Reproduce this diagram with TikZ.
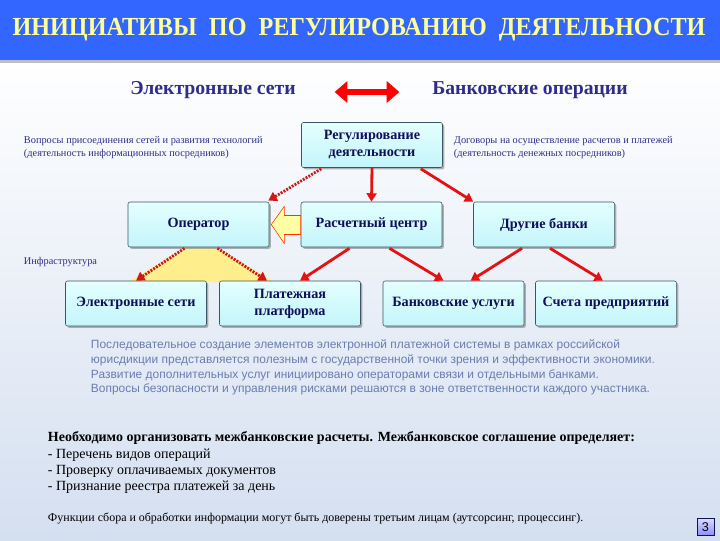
\documentclass[tikz,border=0pt]{standalone}
\usepackage{fontspec}
\setmainfont{Liberation Serif}
\setsansfont{Liberation Sans}
\usepackage{tikz}
\usetikzlibrary{positioning, arrows.meta, calc, shadows}
\usepackage{xcolor}
\definecolor{titleblue}{RGB}{51,102,255}
\definecolor{titleyellow}{RGB}{255,255,153}
\definecolor{hdrnavy}{RGB}{45,45,140}
\definecolor{boxnavy}{RGB}{15,15,90}
\definecolor{boxtop}{RGB}{228,255,255}
\definecolor{boxbot}{RGB}{195,245,250}
\definecolor{boxedge}{RGB}{60,85,100}
\definecolor{arrred}{RGB}{228,18,18}
\definecolor{dotred}{RGB}{205,25,25}
\definecolor{parablue}{RGB}{105,125,175}
\definecolor{bgbottom}{RGB}{212,223,240}
\definecolor{infyellow}{RGB}{255,238,140}

\begin{document}
\begin{tikzpicture}[x=0.025cm, y=-0.025cm,
    blok/.style={draw=boxedge, thin, rounded corners=1.5pt, top color=boxtop, bottom color=boxbot,
        minimum width=3.525cm, minimum height=1.125cm, align=center, text=boxnavy,
        font=\fontsize{10.1}{12}\selectfont\bfseries,
        drop shadow={shadow xshift=1.3pt, shadow yshift=-1.3pt, fill=black!50, opacity=0.6}},
    hdr/.style={text=hdrnavy, font=\fontsize{14}{16}\selectfont\bfseries},
    note/.style={text=hdrnavy, align=left, anchor=west, font=\fontsize{7.35}{9.2}\selectfont},
    solidarr/.style={draw=arrred, line width=2pt, -{Triangle[length=6pt, width=7pt]}},
    dotarr/.style={draw=dotred, line width=2pt, dash pattern=on 1.4pt off 0.9pt,
        -{Triangle[length=6pt, width=7pt]}}]

    % Фон и заголовок
    \useasboundingbox (0,0) rectangle (720,540);
    \shade[top color=white, bottom color=bgbottom] (0,60) rectangle (720,540);
    \fill[black!25] (0,60) rectangle (720,63);
    \fill[titleblue] (0,0) rectangle (720,60);
    \node[text=titleyellow, font=\fontsize{18.5}{20}\selectfont\bfseries] (title) at (359,30)
        {\scalebox{0.93}[1]{ИНИЦИАТИВЫ\ \ ПО\ \ РЕГУЛИРОВАНИЮ\ \ ДЕЯТЕЛЬНОСТИ}};

    % Два направления
    \node[hdr] (elnet) at (213,90) {Электронные сети};
    \node[hdr] (bankop) at (530,90) {Банковские операции};
    \draw[draw=red, line width=4.5pt, {Triangle[length=9pt, width=15pt]}-{Triangle[length=9pt, width=15pt]}]
        ($(elnet.east)+(34,2)$) -- ($(bankop.west)+(-28,2)$);

    \node[note] (leftnote) at (19,148) {Вопросы присоединения сетей и развития технологий\\
        (деятельность информационных посредников)};
    \node[note] (rightnote) at (449,148) {Договоры на осуществление расчетов и платежей\\
        (деятельность денежных посредников)};
    \node[note] (infra) at (19,262) {Инфраструктура};

    % Жёлтая область инфраструктуры
    \fill[infyellow] (185,248) -- (218,248) -- (274,282) -- (128,282) -- cycle;

    % Блоки
    \node[blok] (reg) at (372,145) {Регулирование\\деятельности};
    \node[blok] (op) at (198.5,224.5) {Оператор};
    \node[blok] (rc) at (371.5,224.5) {Расчетный центр};
    \node[blok] (db) at (544,224.5) {Другие банки};
    \node[blok] (es) at (136,303.5) {Электронные сети};
    \node[blok] (pp) at (290,303.5) {Платежная\\платформа};
    \node[blok] (bu) at (453.5,303.5) {Банковские услуги};
    \node[blok] (sp) at (606,303.5) {Счета предприятий};

    % Широкая стрелка от расчетного центра к оператору
    \draw[draw=red!60!orange, fill=titleyellow!90!white, thin]
        ($(op.east)+(2,0)$) -- ($(op.east)+(15,-18)$) -- ($(op.east)+(15,-9)$)
        -- ($(rc.west)+(0,-9)$) -- ($(rc.west)+(0,10)$) -- ($(op.east)+(15,10)$)
        -- ($(op.east)+(15,19)$) -- cycle;

    % Связи
    \draw[dotarr] ($(reg.south west)+(20,1)$) -- ($(op.north east)+(-1,-1)$);
    \draw[solidarr] (reg.south) -- (rc.north);
    \draw[solidarr] ($(reg.south east)+(-22,1)$) -- (db.north west);
    \draw[dotarr] ($(op.south)+(-14,1)$) -- (es.north);
    \draw[dotarr] ($(op.south)+(19,1)$) -- ($(pp.north)+(-23,0)$);
    \draw[solidarr] ($(rc.south)+(-22,1)$) -- ($(pp.north)+(10,0)$);
    \draw[solidarr] ($(rc.south)+(18,1)$) -- ($(bu.north)+(-10,0)$);
    \draw[solidarr] ($(db.south)+(-22,1)$) -- ($(bu.north)+(17,0)$);
    \draw[solidarr] ($(db.south)+(6,1)$) -- ($(sp.north)+(-3,0)$);

    % Пояснения
    \node[anchor=north west, align=left, text=parablue, font=\sffamily\fontsize{8.5}{10.4}\selectfont] (para) at (86,335)
        {Последовательное создание элементов электронной платежной системы в рамках российской\\
        юрисдикции представляется полезным с государственной точки зрения и эффективности экономики.\\
        Развитие дополнительных услуг инициировано операторами связи и отдельными банками.\\
        Вопросы безопасности и управления рисками решаются в зоне ответственности каждого участника.};

    \node[anchor=north west, align=left, font=\fontsize{9.95}{11.6}\selectfont] (agree) at (43,427)
        {\textbf{Необходимо организовать межбанковские расчеты. Межбанковское соглашение определяет:}\\
        - Перечень видов операций\\
        - Проверку оплачиваемых документов\\
        - Признание реестра платежей за день};
    \node[anchor=west, font=\fontsize{8.5}{10}\selectfont] (outs) at (43,518)
        {Функции сбора и обработки информации могут быть доверены третьим лицам (аутсорсинг, процессинг).};

    % Номер слайда
    \node[draw=boxnavy, top color=blue!15, bottom color=blue!45, minimum size=0.425cm, inner sep=0pt,
        font=\sffamily\fontsize{9}{10}\selectfont] (pnum) at (705.5,527) {3};
\end{tikzpicture}
\end{document}
